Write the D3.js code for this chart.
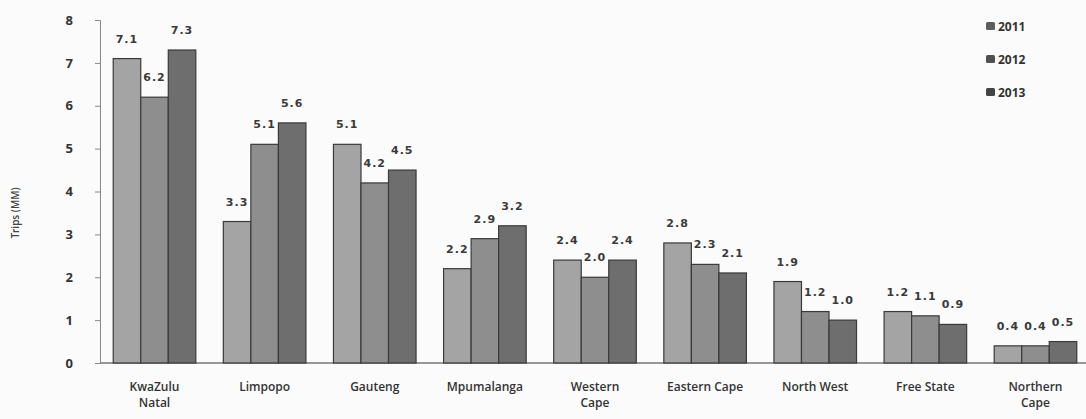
<!DOCTYPE html>
<html>
<head>
<meta charset="utf-8">
<script src="https://cdn.jsdelivr.net/npm/d3@7"></script>
<style>
  body { margin: 0; background: #fbfbfb; }
  svg { display: block; }
</style>
</head>
<body>
<svg id="chart" width="1086" height="419"></svg>
<script>
const provinces = ["KwaZulu Natal", "Limpopo", "Gauteng", "Mpumalanga", "Western Cape",
  "Eastern Cape", "North West", "Free State", "Northern Cape"];
const years = ["2011", "2012", "2013"];
const trips2011 = [7.1, 3.3, 5.1, 2.2, 2.4, 2.8, 1.9, 1.2, 0.4];
const trips2012 = [6.2, 5.1, 4.2, 2.9, 2.0, 2.3, 1.2, 1.1, 0.4];
const trips2013 = [7.3, 5.6, 4.5, 3.2, 2.4, 2.1, 1.0, 0.9, 0.5];
const yTicks = [0, 1, 2, 3, 4, 5, 6, 7, 8];

const series = [trips2011, trips2012, trips2013];
const colors = ["#a4a4a4", "#8e8e8e", "#6e6e6e"];

const svg = d3.select("#chart");
const font = "'Open Sans', 'DejaVu Sans', sans-serif";

const x = d3.scaleBand()
  .domain(provinces)
  .range([100, 1090])
  .paddingInner(0.25)
  .paddingOuter(0.12);

const xYear = d3.scaleBand()
  .domain(years)
  .range([0, x.bandwidth()]);

const y = d3.scaleLinear()
  .domain([0, 8])
  .range([363, 20]);

// baseline
svg.append("line")
  .attr("x1", 100).attr("x2", 1086)
  .attr("y1", y(0)).attr("y2", y(0))
  .attr("stroke", "#777").attr("stroke-width", 1.5);

// y axis
const yAxis = svg.append("g")
  .attr("transform", "translate(100,0)")
  .call(d3.axisLeft(y).tickValues(yTicks).tickSize(5).tickPadding(22).tickFormat(d3.format("d")));
yAxis.select(".domain").attr("stroke", "#888");
yAxis.selectAll(".tick line").attr("stroke", "#888");
yAxis.selectAll("text")
  .attr("font-family", font)
  .attr("font-size", "13px")
  .attr("font-weight", "bold")
  .attr("fill", "#333");

svg.append("text")
  .attr("transform", "rotate(-90)")
  .attr("x", -213)
  .attr("y", 19)
  .attr("text-anchor", "middle")
  .attr("font-family", font)
  .attr("font-size", "10px")
  .attr("font-weight", "600")
  .attr("fill", "#444")
  .text("Trips (MM)");

// bars
const groups = svg.selectAll(".grp")
  .data(provinces)
  .enter().append("g")
  .attr("class", "grp")
  .attr("transform", d => `translate(${x(d)},0)`);

years.forEach((yr, k) => {
  groups.append("rect")
    .attr("x", xYear(yr))
    .attr("y", (d, i) => y(series[k][i]))
    .attr("width", xYear.bandwidth())
    .attr("height", (d, i) => y(0) - y(series[k][i]))
    .attr("fill", colors[k])
    .attr("stroke", "#3a3a3a")
    .attr("stroke-width", 1.2);

  groups.append("text")
    .attr("x", xYear(yr) + xYear.bandwidth() / 2)
    .attr("y", (d, i) => y(series[k][i]) - 16)
    .attr("text-anchor", "middle")
    .attr("font-family", "Verdana, 'DejaVu Sans', sans-serif")
    .attr("font-size", "11px")
    .attr("font-weight", "bold")
    .attr("letter-spacing", "1px")
    .attr("fill", "#3a3a3a")
    .text((d, i) => d3.format(".1f")(series[k][i]));
});

// category labels
groups.append("text")
  .attr("x", x.bandwidth() / 2)
  .attr("y", 391)
  .attr("text-anchor", "middle")
  .attr("font-family", font)
  .attr("font-size", "12px")
  .attr("font-weight", "600")
  .attr("fill", "#333")
  .each(function (d) {
    const parts = ["Eastern Cape", "North West", "Free State"].includes(d) ? [d] : d.split(" ");
    const t = d3.select(this);
    parts.forEach((p, j) => {
      t.append("tspan").attr("x", x.bandwidth() / 2).attr("dy", j === 0 ? 0 : 16).text(p);
    });
  });

// legend
const legend = svg.selectAll(".legend")
  .data(years)
  .enter().append("g")
  .attr("class", "legend")
  .attr("transform", (d, i) => `translate(986,${22 + i * 33})`);

legend.append("rect")
  .attr("width", 9).attr("height", 8)
  .attr("rx", 1.5)
  .attr("fill", (d, i) => ["#5e5e5e", "#505050", "#444"][i]);

legend.append("text")
  .attr("x", 12)
  .attr("y", 9)
  .attr("font-family", font)
  .attr("font-size", "12px")
  .attr("font-weight", "bold")
  .attr("fill", "#333")
  .text(d => d);
</script>
</body>
</html>
